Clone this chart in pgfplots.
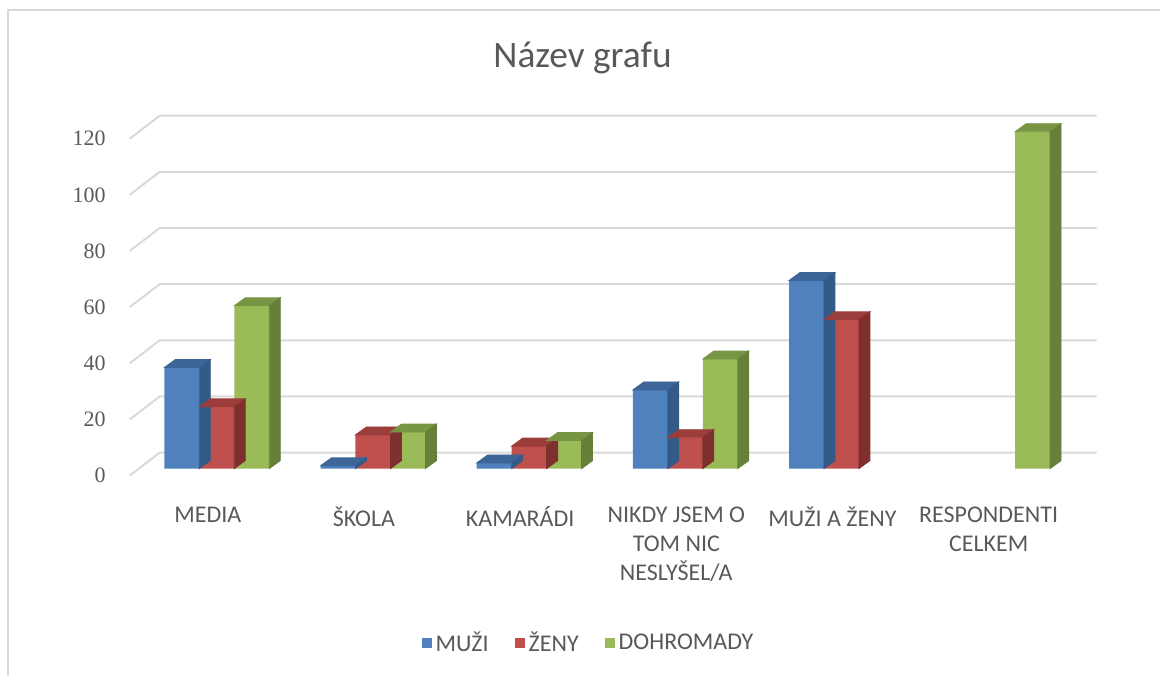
\documentclass[border=0pt]{standalone}
\usepackage{fontspec}
\setmainfont{Carlito}
\newfontfamily\tickfont{Liberation Serif}
\usepackage{pgfplots}
\usepackage{pgfplotstable}
\pgfplotsset{compat=1.18}

\definecolor{txt}{HTML}{595959}
\definecolor{gridc}{HTML}{D9D9D9}
\definecolor{bF}{HTML}{4F81BD}
\definecolor{bT}{HTML}{3D6597}
\definecolor{bS}{HTML}{345A87}
\definecolor{rF}{HTML}{C0504D}
\definecolor{rT}{HTML}{9B3D3A}
\definecolor{rS}{HTML}{7F2F2D}
\definecolor{gF}{HTML}{9BBB59}
\definecolor{gT}{HTML}{789543}
\definecolor{gS}{HTML}{66803A}

% values per category (0 media ... 5 respondenti celkem)
\pgfplotstableread{
x v
0 36
1 1
2 2
3 28
4 67
}\muzi
\pgfplotstableread{
x v
0 22
1 12
2 8
3 11
4 53
}\zeny
\pgfplotstableread{
x v
0 58
1 13
2 10
3 39
5 120
}\dohromady

\pgfdeclareplotmark{blank}{}
% top and side faces of the 3d columns; #1 bar shift, #2 top colour, #3 side colour
\pgfplotsset{
  faces/.style n args={3}{forget plot, only marks, mark=blank, scatter,
    visualization depends on={\thisrow{v} \as \val},
    scatter/@pre marker code/.code={%
      \pgfmathsetlengthmacro\hh{\val*1.405pt}%
      \fill[#2] (#1-8.75pt,0pt) -- (#1+8.75pt,0pt) -- (#1+14.25pt,4pt) -- (#1-3.25pt,4pt) -- cycle;
      \fill[#3] (#1+8.75pt,0pt) -- (#1+14.25pt,4pt) -- (#1+14.25pt,4pt-\hh) -- (#1+8.75pt,-\hh) -- cycle;
    },
    scatter/@post marker code/.code={}},
  front/.style n args={2}{ybar, bar width=17.5pt, bar shift=#1, fill=#2, draw=none}
}

\begin{document}
\begin{tikzpicture}
\begin{axis}[at={(0,0)}, anchor=south west,
  x=78.15pt, y=1.405pt,
  xmin=-0.5, xmax=5.5, ymin=0, ymax=120,
  clip=false, axis line style={draw=none}, major tick length=0pt,
  xtick={0,...,5},
  xticklabels={MEDIA, ŠKOLA, KAMARÁDI, {NIKDY JSEM O\\TOM NIC\\NESLYŠEL/A}, MUŽI A ŽENY, {RESPONDENTI\\CELKEM}},
  xticklabel style={align=center, anchor=north, font=\fontsize{12}{14.5}\selectfont, text=txt, xshift=-4.5pt, yshift=-15.5pt},
  ytick={0,20,...,120},
  /pgf/number format/assume math mode=true,
  yticklabel style={anchor=east, font=\tickfont\fontsize{11}{13}\selectfont, text=txt, xshift=-13pt, yshift=-3.5pt},
  title={Název grafu},
  title style={at={(axis description cs:0.4736,1.183)}, anchor=center, font=\fontsize{18.7}{21}\selectfont, text=txt},
  legend style={draw=none, legend columns=-1, at={(axis description cs:0.481,-0.519)}, anchor=center,
    font=\fontsize{12}{14}\selectfont, text=txt,
    /tikz/every even column/.append style={column sep=11pt}},
  legend image code/.code={\fill[#1,draw=none] (-2pt,-2.5pt) rectangle (3pt,2.5pt);},
]
\pgfplotsinvokeforeach{0,20,40,60,80,100,120}{
  \draw[gridc, line width=1pt] ([shift={(-4.5pt,-3.5pt)}]axis cs:-0.5,#1) -- ([shift={(10.5pt,8pt)}]axis cs:-0.5,#1) -- ([shift={(10.5pt,8pt)}]axis cs:5.5,#1);
}
\addplot[front={-17.5pt}{bF}] table[x=x,y=v] {\muzi};
\addlegendentry{MUŽI}
\addplot[faces={-17.5pt}{bT}{bS}] table[x=x,y=v] {\muzi};
\addplot[front={0pt}{rF}] table[x=x,y=v] {\zeny};
\addlegendentry{ŽENY}
\addplot[faces={0pt}{rT}{rS}] table[x=x,y=v] {\zeny};
\addplot[front={17.5pt}{gF}] table[x=x,y=v] {\dohromady};
\addlegendentry{DOHROMADY}
\addplot[faces={17.5pt}{gT}{gS}] table[x=x,y=v] {\dohromady};
\end{axis}
\pgfresetboundingbox
\path (-69.425pt,-104pt) rectangle (511.075pt,234.5pt);
\draw[gridc, line width=1pt] (-65.425pt,-104pt) -- (-65.425pt,229.5pt) -- (511.075pt,229.5pt);
\end{tikzpicture}
\end{document}
